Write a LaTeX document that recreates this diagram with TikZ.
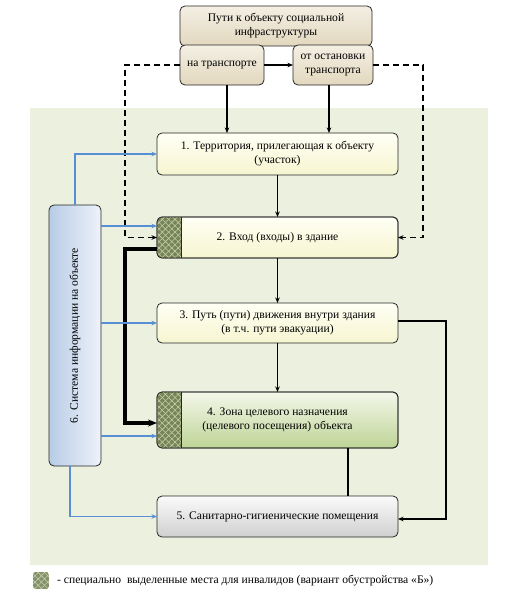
\documentclass[tikz,border=0pt]{standalone}
\usepackage{fontspec}
\setmainfont{Liberation Serif}
\usetikzlibrary{patterns.meta,arrows.meta,calc}
\definecolor{bgc}{RGB}{235,241,222}
\definecolor{beigeT}{RGB}{244,239,228}
\definecolor{beigeB}{RGB}{226,216,190}
\definecolor{yelT}{RGB}{255,255,245}
\definecolor{yelB}{RGB}{246,245,208}
\definecolor{grnT}{RGB}{244,247,234}
\definecolor{grnB}{RGB}{190,212,150}
\definecolor{gryT}{RGB}{250,250,250}
\definecolor{gryB}{RGB}{208,208,208}
\definecolor{bluL}{RGB}{184,204,230}
\definecolor{bluR}{RGB}{238,242,250}
\definecolor{infoc}{RGB}{88,142,212}
\definecolor{hatchbg}{RGB}{118,132,86}
\definecolor{hatchln}{RGB}{196,206,172}
\tikzset{
  hatchA/.style={pattern={Lines[angle=45,distance=4.5pt,line width=0.6pt]}, pattern color=hatchln},
  hatchB/.style={pattern={Lines[angle=-45,distance=4.5pt,line width=0.6pt]}, pattern color=hatchln}
}
\newcommand\hatchpart[1]{%
  \begin{scope}
    \clip[rounded corners=5pt] (#1.north west) rectangle (#1.south east);
    \fill[hatchbg] (#1.north west) rectangle ([xshift=24pt]#1.south west);
    \fill[hatchA] (#1.north west) rectangle ([xshift=24pt]#1.south west);
    \fill[hatchB] (#1.north west) rectangle ([xshift=24pt]#1.south west);
  \end{scope}
  \draw[boxline] ([xshift=24pt]#1.north west) -- ([xshift=24pt]#1.south west);
  \draw[boxline, rounded corners=5pt] (#1.north west) rectangle (#1.south east);
}
\begin{document}
\begin{tikzpicture}[x=1pt,y=-1pt,
  font=\fontsize{11.6}{14}\selectfont,
  >={Stealth[length=5.5pt,width=4.5pt]},
  boxline/.style={draw=black!85, line width=0.8pt},
  box/.style={boxline, rounded corners=5pt, align=center, inner sep=2pt, outer sep=0pt},
  beige/.style={box, top color=beigeT, bottom color=beigeB},
  yel/.style={box, top color=yelT, bottom color=yelB},
  conn/.style={line width=1.1pt, ->},
  dconn/.style={line width=1.3pt, dash pattern=on 6pt off 4pt, ->},
  info/.style={infoc, line width=1.2pt, ->},
  thickc/.style={line width=3.2pt, -{Stealth[length=9pt,width=7pt]}}
]
\useasboundingbox (0,0) rectangle (509,598);
\fill[bgc] (30,108) rectangle (488,565);

\node[beige, minimum width=192pt, minimum height=40pt] (top) at (276,26) {Пути к объекту социальной\\инфраструктуры};
\node[beige, minimum width=84pt, minimum height=40pt] (tr) at (222,65) {на транспорте};
\node[beige, minimum width=80pt, minimum height=40pt] (st) at (333,65) {от остановки\\транспорта};

\node[yel, minimum width=241pt, minimum height=42pt] (b1) at (277.5,154) {1. Территория, прилегающая к объекту\\(участок)};
\node[yel, minimum width=241pt, minimum height=41pt] (b2) at (277.5,237.5) {};
\hatchpart{b2}
\node[align=center] (b2t) at (b2.center) {2. Вход (входы) в здание};
\node[yel, minimum width=241pt, minimum height=40pt] (b3) at (277.5,323) {3. Путь (пути) движения внутри здания\\(в т.ч. пути эвакуации)};
\node[box, top color=grnT, bottom color=grnB, minimum width=241pt, minimum height=56pt] (b4) at (277.5,420) {};
\hatchpart{b4}
\node[align=center] (b4t) at (b4.center) {4. Зона целевого назначения\\(целевого посещения) объекта};
\node[box, top color=gryT, bottom color=gryB, minimum width=241pt, minimum height=41pt] (b5) at (277.5,516.5) {5. Санитарно-гигиенические помещения};
\node[box, left color=bluL, right color=bluR, minimum width=52pt, minimum height=261pt] (b6) at (75,335.5) {\rotatebox{90}{6. Система информации на объекте}};

% top connectors
\draw[conn] (tr.east) -- (st.west);
\draw[conn] ([xshift=5pt]tr.south) -- ([xshift=5pt]tr.south |- b1.north);
\draw[conn] ([xshift=-4pt]st.south) -- ([xshift=-4pt]st.south |- b1.north);
\coordinate (dl) at (125,237.5);
\coordinate (dr) at (423,237.5);
\draw[dconn] (tr.west) -| (dl) -- (b2.west);
\draw[dconn] (st.east) -| (dr) -- (b2.east);

% main chain
\draw[conn] (b1.south) -- (b2.north);
\draw[conn] (b2.south) -- (b3.north);
\draw[conn] (b3.south) -- (b4.north);

% thick
\coordinate (tk) at (125,0);
\draw[thickc] ([yshift=-11.5pt]b2.west) -| ([yshift=-3pt]tk |- b4.west) -- ([yshift=-3pt]b4.west);

% right side
\coordinate (rr) at (446,0);
\draw[conn] ([yshift=2pt]b3.east) -| ([yshift=-2.5pt]rr |- b5.east) -- ([yshift=-2.5pt]b5.east);
\draw[line width=1.1pt] ([xshift=70.5pt]b4.south) -- ([xshift=70.5pt]b5.north);

% info lines
\draw[info] (b6.north) |- (b1.west);
\draw[info] ([yshift=11.5pt]b2.west -| b6.east) -- ([yshift=11.5pt]b2.west);
\draw[info] (b3.west -| b6.east) -- (b3.west);
\draw[info] ([yshift=-16pt]b4.west -| b6.east) -- ([yshift=-16pt]b4.west);
\draw[info] ([xshift=-5pt]b6.south) |- (b5.west);

% legend
\begin{scope}
  \clip[rounded corners=2.5pt] (33,572) rectangle (49,589);
  \fill[hatchbg!90] (33,572) rectangle (49,589);
  \fill[hatchA] (33,572) rectangle (49,589);
  \fill[hatchB] (33,572) rectangle (49,589);
\end{scope}
\node[anchor=west, inner sep=0pt] (leg) at (57,580.5) {- специально\ \ выделенные места для инвалидов (вариант обустройства «Б»)};
\end{tikzpicture}
\end{document}
